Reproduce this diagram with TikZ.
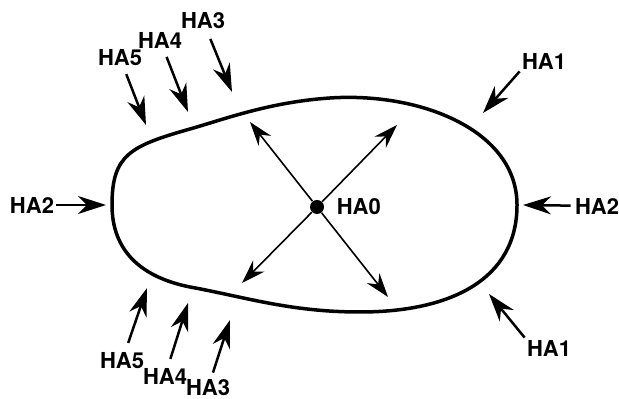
\documentclass[tikz,border=0pt]{standalone}
\usepackage{fontspec}
\setmainfont{TeX Gyre Heros}
\usetikzlibrary{arrows.meta,positioning}

\begin{document}
\begin{tikzpicture}[x=0.5pt,y=-0.5pt,
    lbl/.style={font=\bfseries\fontsize{11}{12}\selectfont,inner sep=1pt},
    hit/.style={line width=1.25pt,-{Stealth[length=14pt,width=9pt,inset=4.5pt]}},
    spread/.style={line width=0.8pt,-{Stealth[length=12pt,width=8pt,inset=4pt]}}]
    \useasboundingbox (0,0) rectangle (619,399);
    % cell outline
    \draw[line width=1.75pt] (112,205)
      .. controls (112,155) and (130,146) .. (190,129)
      .. controls (225,119) and (270,102) .. (330,98)
      .. controls (420,92) and (517,130) .. (517,205)
      .. controls (517,280) and (450,312) .. (360,312)
      .. controls (290,312) and (245,297) .. (190,287)
      .. controls (140,277) and (112,250) .. cycle;
    % labels
    \node[lbl] (h3_t) at (203,21)  {HA3};
    \node[lbl] (h4_t) at (160,40)  {HA4};
    \node[lbl] (h5_t) at (120,58)  {HA5};
    \node[lbl] (h1_t) at (544,61)  {HA1};
    \node[lbl] (h2_l) at (32,205)  {HA2};
    \node[lbl] (h2_r) at (597,206) {HA2};
    \node[lbl] (h5_b) at (122,361) {HA5};
    \node[lbl] (h4_b) at (165,376) {HA4};
    \node[lbl] (h3_b) at (208,388) {HA3};
    \node[lbl] (h1_b) at (549,348) {HA1};
    \node[circle,fill,minimum size=7pt,inner sep=0pt] (hub) at (317,207) {};
    \node[lbl] (h0) [right=5pt of hub] {HA0};
    % points on the outline
    \coordinate (p3_t) at (232,92);
    \coordinate (p4_t) at (188,112);
    \coordinate (p5_t) at (146,125);
    \coordinate (p1_t) at (483,113);
    \coordinate (p2_l) at (106,205);
    \coordinate (p2_r) at (523,205);
    \coordinate (p5_b) at (147,288);
    \coordinate (p4_b) at (188,303);
    \coordinate (p3_b) at (230,320);
    \coordinate (p1_b) at (489,294);
    \coordinate (q_ul) at (250,122);
    \coordinate (q_ur) at (397,125);
    \coordinate (q_ll) at (242,283);
    \coordinate (q_lr) at (388,297);
    \path[hit]
    % top edges
    (h5_t) edge [shorten <=3pt] (p5_t)
    (h4_t) edge [shorten <=3.5pt] (p4_t)
    (h3_t) edge [shorten <=4pt] (p3_t)
    (h1_t.south west) edge (p1_t)
    % side edges
    (h2_l) edge (p2_l)
    (h2_r) edge [shorten <=1pt] (p2_r)
    % bottom edges
    (h5_b) edge [shorten <=4pt] (p5_b)
    (h4_b) edge [shorten <=3.5pt] (p4_b)
    (h3_b) edge [shorten <=2.5pt] (p3_b)
    (h1_b.north west) edge (p1_b);
    % from the centre
    \path[spread]
    (hub) edge (q_ul)
    (hub) edge (q_ur)
    (hub) edge (q_ll)
    (hub) edge (q_lr);
\end{tikzpicture}
\end{document}
